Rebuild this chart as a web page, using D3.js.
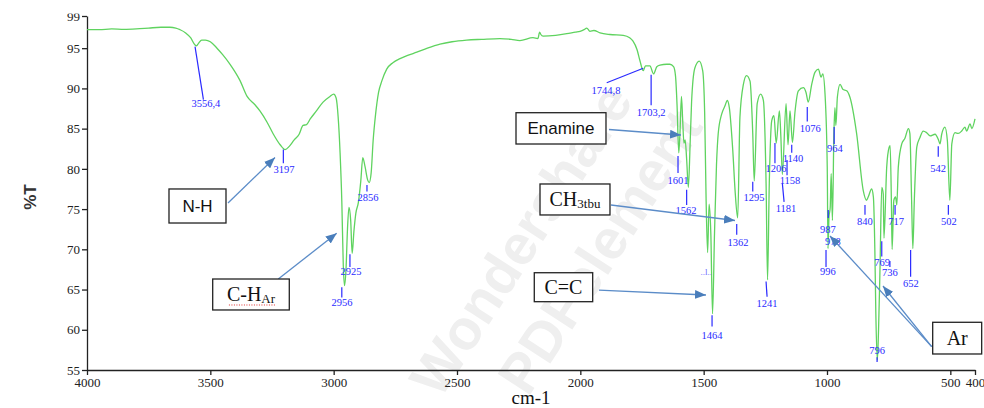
<!DOCTYPE html>
<html><head><meta charset="utf-8">
<script src="https://cdn.jsdelivr.net/npm/d3@7"></script>
<style>body{margin:0;background:#fff}svg{display:block}</style>
</head><body><svg id="c" width="984" height="408"></svg>
<script>
// ---- data ----
const wavenumbers = [4000,3950,3900,3850,3800,3750,3700,3664,3640,3623,3600,3580,3562,3556,3548,3535,3520,3500,3473,3450,3420,3380,3351,3320,3299,3270,3246,3217,3197,3180,3160,3140,3124,3110,3095,3070,3043,3015,3000,2990,2982,2974,2967,2961,2956,2950,2944,2938,2931,2925,2918,2910,2900,2890,2882,2873,2862,2856,2848,2840,2830,2818,2805,2785,2760,2731,2700,2663,2620,2569,2520,2461,2400,2326,2280,2245,2192,2172,2165,2160,2151,2100,2055,2020,2001,1985,1974,1961,1945,1920,1880,1826,1800,1787,1770,1758,1745,1736,1718,1703,1690,1677,1650,1637,1622,1614,1608,1601,1596,1590,1585,1580,1575,1569,1562,1555,1549,1536,1518,1504,1496,1490,1484,1478,1471,1464,1456,1448,1441,1427,1414,1404,1396,1382,1372,1362,1353,1339,1326,1312,1301,1295,1283,1269,1258,1247,1241,1234,1224,1215,1206,1193,1187,1181,1166,1158,1150,1140,1130,1116,1096,1085,1076,1062,1049,1035,1024,1017,1008,999,996,992,987,983,978,972,968,964,958,947,936,920,907,880,853,840,833,819,812,806,802,796,791,785,778,772,769,758,748,744,739,736,729,722,717,711,697,684,670,664,657,652,646,636,623,610,596,582,562,548,542,535,522,512,502,494,481,468,454,441,434,420,413,400];
const transmittance = [97.3,97.3,97.4,97.35,97.4,97.5,97.6,97.6,97.5,97.3,96.9,96.3,95.4,95.3,95.6,96.0,96.0,95.8,95.0,94.2,93.0,91.0,89.0,88.0,87.2,85.8,84.4,83.0,82.4,82.8,83.6,84.3,85.4,85.5,86.2,87.2,88.3,89.0,89.3,88.8,86.5,82.0,76.0,68.0,65.5,67.5,72.5,75.2,73.6,69.5,72.2,74.5,75.8,78.5,81.4,80.3,78.6,78.3,79.5,83.5,86.8,89.5,90.9,92.4,93.2,93.7,94.1,94.5,95.0,95.5,95.8,96.0,96.1,96.2,96.1,95.95,96.3,96.2,97.0,96.7,96.5,96.6,96.8,97.0,97.1,97.3,97.5,97.1,97.2,96.9,96.7,96.6,96.3,95.9,94.8,93.4,92.2,92.8,92.8,91.8,92.7,92.9,93.0,93.0,92.7,91.5,88.0,82.0,84.5,89.0,86.0,83.2,83.6,81.2,77.7,83.0,88.3,92.5,93.4,92.2,87.0,76.0,69.6,75.6,72.0,62.0,72.0,80.5,84.4,86.8,87.8,88.5,87.6,82.3,77.0,73.9,86.4,90.5,91.6,90.9,84.4,78.5,88.1,89.3,88.5,78.2,66.2,78.2,86.0,86.6,83.2,87.2,84.0,79.3,88.1,83.0,87.2,83.3,87.0,89.7,90.1,89.5,88.3,90.5,92.0,92.4,91.4,91.8,89.3,80.2,70.1,74.0,75.2,79.4,73.6,84.4,87.6,85.4,88.9,90.5,89.9,89.7,88.9,84.4,77.3,76.1,76.5,77.5,76.5,69.9,62.0,56.2,60.0,67.8,77.7,76.9,71.4,80.2,82.7,82.9,76.0,70.0,76.1,76.5,75.5,80.2,83.1,83.8,85.0,84.4,76.1,70.1,76.1,82.7,83.9,84.7,84.5,84.1,84.3,83.6,83.1,84.3,85.2,83.5,76.1,83.1,84.5,84.4,84.7,85.2,84.7,85.6,85.0,86.2];

const xTicks = [4000,3500,3000,2500,2000,1500,1000,500,400];
const yTicks = [55,60,65,70,75,80,85,90,95,99];

// peak annotations: text, tick line from / to (wavenumber, %T), label anchor (wavenumber, %T)
const peakText = ["3556,4","3197","2856","2925","2956","1744,8","1703,2","1601","1562","1464","1362","1295","1241","1206","1181","1158","1140","1076","964","987","978","996","840","796","769","736","717","652","542","502"];
const peakFrom = [[3562,95.2],[3204,82.4],[2865,78.0],[2934,69.4],[2967,65.3],[1745,92.5],[1713,91.7],[1604,81.6],[1569,77.4],[1466,61.8],[1366,73.15],[1301,78.4],[1247,66.0],[1211,83.2],[1181,78.2],[1162,81.1],[1143,83.0],[1080,87.7],[971,85.2],[995,74.9],null,[1004,69.9],[846,75.5],[797,56.6],[778,71.0],[745,68.55],[724,75.5],[661,69.9],[549,82.8],[508,75.5]];
const peakTo = [[3528,88.6],[3204,80.7],[2865,77.2],[2934,67.8],[2967,64.0],[1893,90.7],[1713,87.9],[1604,79.5],[1569,75.5],[1466,60.4],[1366,71.8],[1301,77.2],[1243,64.1],[1211,80.7],[1174,75.9],[1162,79.2],[1143,82.0],[1080,85.9],[971,83.1],[995,73.9],null,[1004,67.8],[846,74.3],[797,56.0],[778,69.1],[745,67.8],[724,74.3],[661,66.6],[549,81.5],[508,74.3]];
const peakAt = [[3518,88.1],[3201,79.9],[2861,76.5],[2930,67.3],[2966,63.45],[1896,89.8],[1713,87.0],[1604,78.5],[1572,74.8],[1466,59.35],[1361,70.9],[1296,76.5],[1243,63.3],[1207,80.0],[1166,75.1],[1150,78.6],[1138,81.35],[1068,85.0],[968,82.5],[996,72.5],[976,71.0],[996,67.2],[846,73.4],[797,57.4],[777,68.4],[745,67.1],[720,73.4],[659.5,65.8],[550,80.0],[505.5,73.4]];

// group annotations (boxes in data coords: left wn, right wn, top %T, bottom %T)
const groupNames = ["N-H","C-H|Ar","Enamine","CH|3tbu","C=C","Ar"];
const groupBoxes = [[3667.6,3436.5,77.5,73.27],[3490.4,3179.9,66.31,62.46],[2260.8,1896,86.98,83.09],[2163.5,1879.8,78.12,74.27],[2186.7,1949.9,67.09,63.49],[571.5,372.9,60.93,56.99]];
const groupArrowFrom = [[[3428.4,75.76]],[[3224.5,66.31]],[[1883.8,84.89]],[[1875.7,75.51]],[[1924.4,64.94]],[[575.6,57.9],[575.6,57.9]]];
const groupArrowTo = [[[3237.8,81.41]],[[2987.7,72.0]],[[1591.9,84.21]],[[1373,73.58]],[[1490.6,64.32]],[[987.9,71.66],[773,65.44]]];

// ---- drawing ----
const svg = d3.select("#c");
const x = d3.scaleLinear().domain([4000,400]).range([87,975]);
const y = d3.scaleLinear().domain([55,99]).range([370,16]);

// watermark
const wm = svg.append("g").attr("fill","#efefef").attr("font-family","Liberation Sans, Arial, sans-serif").attr("font-weight","bold").attr("font-size",56);
wm.append("text").attr("transform","translate(440,400) rotate(-57)").text("Wondershare");
wm.append("text").attr("transform","translate(528,398) rotate(-57)").text("PDFelement");

// axes
const yAxis = d3.axisLeft(y).tickValues(yTicks).tickSize(5).tickSizeOuter(0).tickPadding(2).tickFormat(d3.format("d"));
const xAxis = d3.axisBottom(x).tickValues(xTicks).tickSize(5).tickSizeOuter(0).tickPadding(3).tickFormat(d3.format("d"));
const gy = svg.append("g").attr("transform","translate(87,0)").call(yAxis);
const gx = svg.append("g").attr("transform","translate(0,370)").call(xAxis);
[gy,gx].forEach(g=>{
  g.selectAll("text").attr("font-family","Liberation Serif, Times New Roman, serif").attr("font-size",13).attr("fill","#222");
  g.selectAll("line,path").attr("stroke","#222").attr("stroke-width",1.3);
});
// the top "99" label is slightly cropped in the original
svg.append("clipPath").attr("id","topclip").append("rect").attr("x",-40).attr("y",-3).attr("width",60).attr("height",20);
gy.selectAll(".tick").filter(d=>d===99).select("text").attr("clip-path","url(#topclip)");

svg.append("text").attr("transform","translate(36,197) rotate(-90)").attr("text-anchor","middle")
  .attr("font-family","Liberation Sans, Arial, sans-serif").attr("font-size",17).attr("font-weight","bold").attr("fill","#333").text("%T");
svg.append("text").attr("x",531).attr("y",404).attr("text-anchor","middle")
  .attr("font-family","Liberation Serif, Times New Roman, serif").attr("font-size",19).attr("fill","#111").text("cm-1");

// spectrum
const pts = wavenumbers.map((w,i)=>[w,transmittance[i]]);
svg.append("path").datum(pts)
  .attr("fill","none").attr("stroke","#5fd35f").attr("stroke-width",1.3)
  .attr("d", d3.line().x(d=>x(d[0])).y(d=>y(d[1])).curve(d3.curveMonotoneX));

// peak labels
const pg = svg.append("g");
peakText.forEach((t,i)=>{
  if(peakFrom[i]) pg.append("line").attr("x1",x(peakFrom[i][0])).attr("y1",y(peakFrom[i][1]))
    .attr("x2",x(peakTo[i][0])).attr("y2",y(peakTo[i][1])).attr("stroke","#2a2aff").attr("stroke-width",1.2);
  pg.append("text").attr("x",x(peakAt[i][0])).attr("y",y(peakAt[i][1])).attr("text-anchor","middle")
    .attr("dominant-baseline","central").attr("font-family","Liberation Serif, Times New Roman, serif")
    .attr("font-size",10.5).attr("fill","#2a2aff").text(t);
});
pg.append("text").attr("x",x(1490)).attr("y",y(66.8)).attr("text-anchor","middle").attr("font-family","Liberation Serif, serif")
  .attr("font-size",9).attr("fill","#6a6aff").text("..l..");

// group annotations
const defs = svg.append("defs");
defs.append("marker").attr("id","ah").attr("viewBox","0 0 10 8").attr("refX",10).attr("refY",4)
  .attr("markerWidth",11).attr("markerHeight",9).attr("markerUnits","userSpaceOnUse").attr("orient","auto")
  .append("path").attr("d","M0,0L10,4L0,8Z").attr("fill","#4a7ebb");
const ag = svg.append("g");
groupNames.forEach((n,i)=>{
  const b = groupBoxes[i];
  const x0=x(b[0]), x1=x(b[1]), y0=y(b[2]), y1=y(b[3]);
  groupArrowFrom[i].forEach((f,j)=>{
    const t = groupArrowTo[i][j];
    ag.append("line").attr("x1",x(f[0])).attr("y1",y(f[1])).attr("x2",x(t[0])).attr("y2",y(t[1]))
      .attr("stroke","#5b8cc8").attr("stroke-width",1.3).attr("marker-end","url(#ah)");
  });
  ag.append("rect").attr("x",x0).attr("y",y0).attr("width",x1-x0).attr("height",y1-y0)
    .attr("fill","#fff").attr("stroke","#222").attr("stroke-width",1.3);
  const parts = n.split("|");
  const sans = (n==="N-H"||n==="Enamine");
  const tx = ag.append("text").attr("x",(x0+x1)/2).attr("y",(y0+y1)/2).attr("text-anchor","middle")
    .attr("dominant-baseline","central")
    .attr("font-family", sans ? "Liberation Sans, Arial, sans-serif" : "Liberation Serif, Times New Roman, serif")
    .attr("font-size", sans ? 17 : 20).attr("fill","#111");
  tx.append("tspan").text(parts[0]);
  if(parts[1]) tx.append("tspan").attr("font-size",13).attr("dy",4).text(parts[1]);
  if(n==="C-H|Ar"){
    const bb = tx.node().getBBox();
    ag.append("line").attr("x1",bb.x+2).attr("x2",bb.x+bb.width).attr("y1",bb.y+bb.height-1).attr("y2",bb.y+bb.height-1)
      .attr("stroke","#e03030").attr("stroke-width",1).attr("stroke-dasharray","1,1.5");
  }
});
</script></body></html>
